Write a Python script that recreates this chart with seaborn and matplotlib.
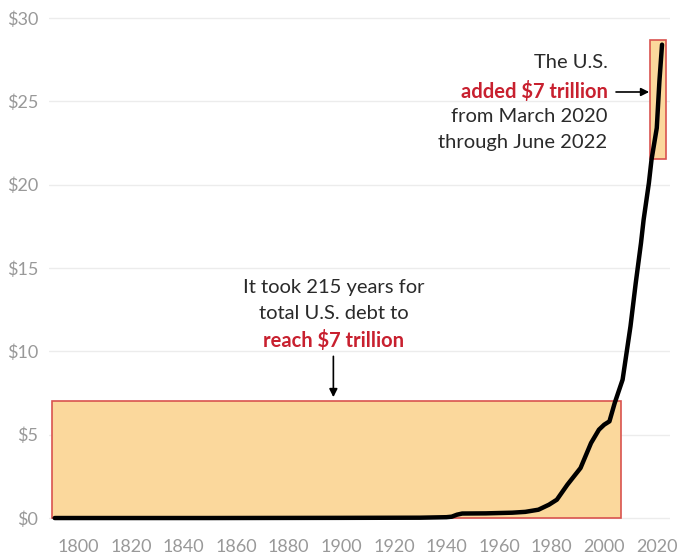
import matplotlib
matplotlib.use("Agg")
import matplotlib.pyplot as plt
from matplotlib.patches import Rectangle
import seaborn as sns
import pandas as pd

# ---- data (trillions of dollars) ----
years = [1791, 1850, 1900, 1930, 1940, 1942, 1944, 1946, 1955, 1965, 1970,
         1975, 1979, 1982, 1986, 1991, 1995, 1998, 2000, 2002, 2004, 2007,
         2010, 2012, 2014, 2015, 2017, 2018, 2020, 2021, 2022]
debt = [0.0, 0.0, 0.01, 0.02, 0.05, 0.08, 0.2, 0.27, 0.28, 0.32, 0.37,
        0.5, 0.8, 1.1, 2.0, 3.0, 4.5, 5.3, 5.6, 5.8, 6.9, 8.3,
        11.5, 14.1, 16.5, 17.9, 20.1, 21.5, 23.4, 26.2, 28.4]

y_ticks = [0, 5, 10, 15, 20, 25, 30]
y_tick_labels = ["$0", "$5", "$10", "$15", "$20", "$25", "$30"]
x_ticks = [1800, 1820, 1840, 1860, 1880, 1900, 1920, 1940, 1960, 1980, 2000, 2020]
x_tick_labels = [str(v) for v in x_ticks]

df = pd.DataFrame({"year": years, "debt": debt})

sns.set_theme(style="white")
plt.rcParams["font.family"] = ["Lato", "DejaVu Sans"]

fig = plt.figure(figsize=(6.9, 5.55), dpi=100)
ax = fig.add_axes([0.0716, 0.0486, 0.8993, 0.928])

DARK = "#2a2a2a"
RED = "#c8202f"
FILL = "#fbd89c"
EDGE = "#d9534f"

# highlight boxes
ax.add_patch(Rectangle((1790, 0), 2006.3 - 1790, 7.0, facecolor=FILL,
                       edgecolor=EDGE, linewidth=1.2, zorder=1))
ax.add_patch(Rectangle((2017.3, 21.55), 2023.4 - 2017.3, 28.7 - 21.55,
                       facecolor=FILL, edgecolor=EDGE, linewidth=1.2, zorder=1))

# gridlines
for yv in y_ticks:
    ax.axhline(yv, color="#ececec", linewidth=1.0, zorder=0.5)

sns.lineplot(data=df, x="year", y="debt", ax=ax, color="black",
             linewidth=3.2, zorder=3)

ax.set_xlim(1789, 2025)
ax.set_ylim(-0.6, 30.3)
ax.set_xticks(x_ticks)
ax.set_xticklabels(x_tick_labels)
ax.set_yticks(y_ticks)
ax.set_yticklabels(y_tick_labels)
ax.tick_params(axis="both", length=0, labelsize=13, labelcolor="#999999")
ax.tick_params(axis="y", pad=8)
ax.tick_params(axis="x", pad=8)
ax.set_xlabel("")
ax.set_ylabel("")
for s in ax.spines.values():
    s.set_visible(False)

# left annotation
fs = 14.5
ax.text(1897, 13.86, "It took 215 years for", ha="center", va="center",
        fontsize=fs, color=DARK, zorder=4)
ax.text(1897, 12.28, "total U.S. debt to", ha="center", va="center",
        fontsize=fs, color=DARK, zorder=4)
ax.text(1897, 10.68, "reach $7 trillion", ha="center", va="center",
        fontsize=fs, color=RED, fontweight="bold", zorder=4)
ax.annotate("", xy=(1897, 7.25), xytext=(1897, 9.7),
            arrowprops=dict(arrowstyle="-|>", color="black", lw=1.2,
                            mutation_scale=12, shrinkA=0, shrinkB=0))

# right annotation
ax.text(2001.3, 27.3, "The U.S.", ha="right", va="center",
        fontsize=fs, color=DARK, zorder=4)
ax.text(2001.3, 25.56, "added $7 trillion", ha="right", va="center",
        fontsize=fs, color=RED, fontweight="bold", zorder=4)
ax.text(2001.3, 24.06, "from March 2020", ha="right", va="center",
        fontsize=fs, color=DARK, zorder=4)
ax.text(2001.3, 22.5, "through June 2022", ha="right", va="center",
        fontsize=fs, color=DARK, zorder=4)
ax.annotate("", xy=(2017.1, 25.56), xytext=(2004.5, 25.56),
            arrowprops=dict(arrowstyle="-|>", color="black", lw=1.2,
                            mutation_scale=12, shrinkA=0, shrinkB=0))

fig.savefig("out.png", dpi=100)
